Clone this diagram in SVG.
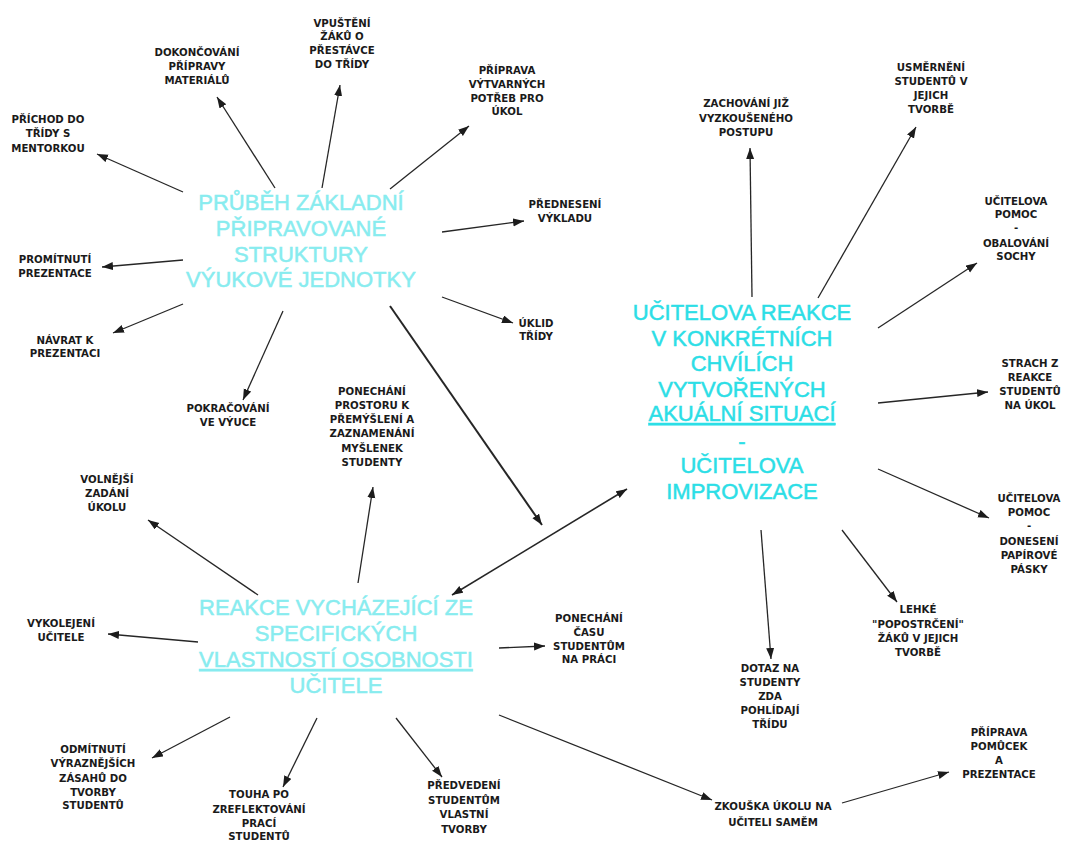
<svg xmlns="http://www.w3.org/2000/svg" width="1068" height="841" viewBox="0 0 1068 841">
<style>
.lbl{font-family:"DejaVu Sans","Verdana",sans-serif;font-weight:bold;font-size:10.2px;fill:#1a1a1a;text-anchor:middle}
.hub{font-family:"Liberation Sans",Arial,sans-serif;font-size:22px;text-anchor:middle;stroke-width:0.5}
.hubA{fill:#88ecef;stroke:#88ecef}
.hubB{fill:#2cdee6;stroke:#2cdee6}
.ul{text-decoration:underline}
.con line{stroke:#262626;stroke-width:1.3;fill:none;marker-end:url(#ah)}
</style>
<defs>
<marker id="ah" markerUnits="userSpaceOnUse" markerWidth="12" markerHeight="9" refX="11" refY="4" orient="auto-start-reverse">
<path d="M0,0 L11,4 L0,8 z" fill="#1c1c1c"/>
</marker>
</defs>
<rect width="1068" height="841" fill="#ffffff"/>

<g id="connectors" class="con">
<line x1="183" y1="192" x2="97" y2="154"/>
<line x1="275" y1="188" x2="217" y2="97"/>
<line x1="322" y1="188" x2="340" y2="85"/>
<line x1="390" y1="189" x2="469" y2="126"/>
<line x1="442" y1="232" x2="524" y2="221"/>
<line x1="442" y1="297" x2="513" y2="323"/>
<line x1="390" y1="306" x2="542" y2="525" style="stroke-width:2"/>
<line x1="283" y1="311" x2="243" y2="400"/>
<line x1="183" y1="304" x2="113" y2="333"/>
<line x1="183" y1="260" x2="102" y2="267"/>
<line x1="752" y1="297" x2="750" y2="148"/>
<line x1="818" y1="298" x2="916" y2="127"/>
<line x1="878" y1="328" x2="977" y2="263"/>
<line x1="878" y1="403" x2="988" y2="392"/>
<line x1="878" y1="469" x2="989" y2="518"/>
<line x1="842" y1="530" x2="897" y2="602"/>
<line x1="761" y1="530" x2="771" y2="659"/>
<line x1="452" y1="595" x2="627" y2="489" style="marker-start:url(#ah);stroke-width:1.6"/>
<line x1="358" y1="583" x2="373" y2="487"/>
<line x1="258" y1="595" x2="148" y2="520"/>
<line x1="198" y1="642" x2="108" y2="634"/>
<line x1="499" y1="648" x2="545" y2="646"/>
<line x1="230" y1="717" x2="152" y2="758"/>
<line x1="317" y1="718" x2="283" y2="787"/>
<line x1="396" y1="718" x2="442" y2="777"/>
<line x1="499" y1="715" x2="712" y2="800"/>
<line x1="842" y1="803" x2="949" y2="772"/>
</g>

<g id="hub-prubeh">
<text class="hub hubA"><tspan x="301" y="210">PRŮBĚH ZÁKLADNÍ</tspan><tspan x="301" y="236">PŘIPRAVOVANÉ</tspan><tspan x="301" y="262">STRUKTURY</tspan><tspan x="301" y="287">VÝUKOVÉ JEDNOTKY</tspan></text>
</g>
<g id="hub-reakce-ucitele">
<text class="hub hubB"><tspan x="742" y="320">UČITELOVA REAKCE</tspan><tspan x="742" y="346">V KONKRÉTNÍCH</tspan><tspan x="742" y="371">CHVÍLÍCH</tspan><tspan x="742" y="397">VYTVOŘENÝCH</tspan><tspan x="742" y="421" class="ul">AKUÁLNÍ SITUACÍ</tspan><tspan x="742" y="449">-</tspan><tspan x="742" y="473">UČITELOVA</tspan><tspan x="742" y="499">IMPROVIZACE</tspan></text>
</g>
<g id="hub-vlastnosti">
<text class="hub hubA"><tspan x="336" y="615">REAKCE VYCHÁZEJÍCÍ ZE</tspan><tspan x="336" y="641">SPECIFICKÝCH</tspan><tspan x="336" y="667" class="ul">VLASTNOSTÍ OSOBNOSTI</tspan><tspan x="336" y="693">UČITELE</tspan></text>
</g>

<g id="n-prichod"><text class="lbl"><tspan x="48" y="123">PŘÍCHOD DO</tspan><tspan x="48" y="137">TŘÍDY S</tspan><tspan x="48" y="152">MENTORKOU</tspan></text></g>
<g id="n-dokoncovani"><text class="lbl"><tspan x="197" y="56">DOKONČOVÁNÍ</tspan><tspan x="197" y="70">PŘÍPRAVY</tspan><tspan x="197" y="84">MATERIÁLŮ</tspan></text></g>
<g id="n-vpusteni"><text class="lbl"><tspan x="342" y="27">VPUŠTĚNÍ</tspan><tspan x="342" y="40">ŽÁKŮ O</tspan><tspan x="342" y="54">PŘESTÁVCE</tspan><tspan x="342" y="68">DO TŘÍDY</tspan></text></g>
<g id="n-priprava-potreb"><text class="lbl"><tspan x="507" y="74">PŘÍPRAVA</tspan><tspan x="507" y="88">VÝTVARNÝCH</tspan><tspan x="507" y="102">POTŘEB PRO</tspan><tspan x="507" y="115">ÚKOL</tspan></text></g>
<g id="n-zachovani"><text class="lbl"><tspan x="746" y="107">ZACHOVÁNÍ JIŽ</tspan><tspan x="746" y="122">VYZKOUŠENÉHO</tspan><tspan x="746" y="136">POSTUPU</tspan></text></g>
<g id="n-usmerneni"><text class="lbl"><tspan x="931" y="71">USMĚRNĚNÍ</tspan><tspan x="931" y="85">STUDENTŮ V</tspan><tspan x="931" y="99">JEJICH</tspan><tspan x="931" y="113">TVORBĚ</tspan></text></g>
<g id="n-obalovani"><text class="lbl"><tspan x="1016" y="205">UČITELOVA</tspan><tspan x="1016" y="218">POMOC</tspan><tspan x="1016" y="231">-</tspan><tspan x="1016" y="247">OBALOVÁNÍ</tspan><tspan x="1016" y="260">SOCHY</tspan></text></g>
<g id="n-prednes"><text class="lbl"><tspan x="565" y="208">PŘEDNESENÍ</tspan><tspan x="565" y="222">VÝKLADU</tspan></text></g>
<g id="n-uklid"><text class="lbl"><tspan x="536" y="327">ÚKLID</tspan><tspan x="536" y="340">TŘÍDY</tspan></text></g>
<g id="n-promitnuti"><text class="lbl"><tspan x="55" y="263">PROMÍTNUTÍ</tspan><tspan x="55" y="277">PREZENTACE</tspan></text></g>
<g id="n-navrat"><text class="lbl"><tspan x="65" y="344">NÁVRAT K</tspan><tspan x="65" y="357">PREZENTACI</tspan></text></g>
<g id="n-pokracovani"><text class="lbl"><tspan x="228" y="412">POKRAČOVÁNÍ</tspan><tspan x="228" y="426">VE VÝUCE</tspan></text></g>
<g id="n-prostor"><text class="lbl"><tspan x="372" y="395">PONECHÁNÍ</tspan><tspan x="372" y="409">PROSTORU K</tspan><tspan x="372" y="423">PŘEMÝŠLENÍ A</tspan><tspan x="372" y="437">ZAZNAMENÁNÍ</tspan><tspan x="372" y="452">MYŠLENEK</tspan><tspan x="372" y="466">STUDENTY</tspan></text></g>
<g id="n-volnejsi"><text class="lbl"><tspan x="107" y="483">VOLNĚJŠÍ</tspan><tspan x="107" y="497">ZADÁNÍ</tspan><tspan x="107" y="511">ÚKOLU</tspan></text></g>
<g id="n-vykolejeni"><text class="lbl"><tspan x="61" y="627">VYKOLEJENÍ</tspan><tspan x="61" y="641">UČITELE</tspan></text></g>
<g id="n-cas"><text class="lbl"><tspan x="589" y="622">PONECHÁNÍ</tspan><tspan x="589" y="636">ČASU</tspan><tspan x="589" y="650">STUDENTŮM</tspan><tspan x="589" y="663">NA PRÁCI</tspan></text></g>
<g id="n-odmitnuti"><text class="lbl"><tspan x="93" y="753">ODMÍTNUTÍ</tspan><tspan x="93" y="767">VÝRAZNĚJŠÍCH</tspan><tspan x="93" y="782">ZÁSAHŮ DO</tspan><tspan x="93" y="796">TVORBY</tspan><tspan x="93" y="809">STUDENTŮ</tspan></text></g>
<g id="n-touha"><text class="lbl"><tspan x="259" y="798">TOUHA PO</tspan><tspan x="259" y="813">ZREFLEKTOVÁNÍ</tspan><tspan x="259" y="827">PRACÍ</tspan><tspan x="259" y="840">STUDENTŮ</tspan></text></g>
<g id="n-predvedeni"><text class="lbl"><tspan x="464" y="789">PŘEDVEDENÍ</tspan><tspan x="464" y="804">STUDENTŮM</tspan><tspan x="464" y="818">VLASTNÍ</tspan><tspan x="464" y="833">TVORBY</tspan></text></g>
<g id="n-dotaz"><text class="lbl"><tspan x="770" y="672">DOTAZ NA</tspan><tspan x="770" y="686">STUDENTY</tspan><tspan x="770" y="700">ZDA</tspan><tspan x="770" y="714">POHLÍDAJÍ</tspan><tspan x="770" y="728">TŘÍDU</tspan></text></g>
<g id="n-lehke"><text class="lbl"><tspan x="918" y="613">LEHKÉ</tspan><tspan x="918" y="628">"POPOSTRČENÍ"</tspan><tspan x="918" y="642">ŽÁKŮ V JEJICH</tspan><tspan x="918" y="656">TVORBĚ</tspan></text></g>
<g id="n-donesen"><text class="lbl"><tspan x="1029" y="502">UČITELOVA</tspan><tspan x="1029" y="516">POMOC</tspan><tspan x="1029" y="529">-</tspan><tspan x="1029" y="545">DONESENÍ</tspan><tspan x="1029" y="559">PAPÍROVÉ</tspan><tspan x="1029" y="573">PÁSKY</tspan></text></g>
<g id="n-strach"><text class="lbl"><tspan x="1030" y="367">STRACH Z</tspan><tspan x="1030" y="381">REAKCE</tspan><tspan x="1030" y="395">STUDENTŮ</tspan><tspan x="1030" y="409">NA ÚKOL</tspan></text></g>
<g id="n-pomucky"><text class="lbl"><tspan x="999" y="736">PŘÍPRAVA</tspan><tspan x="999" y="750">POMŮCEK</tspan><tspan x="999" y="764">A</tspan><tspan x="999" y="778">PREZENTACE</tspan></text></g>
<g id="n-zkouska"><text class="lbl"><tspan x="773" y="810">ZKOUŠKA ÚKOLU NA</tspan><tspan x="773" y="826">UČITELI SAMĚM</tspan></text></g>
</svg>
